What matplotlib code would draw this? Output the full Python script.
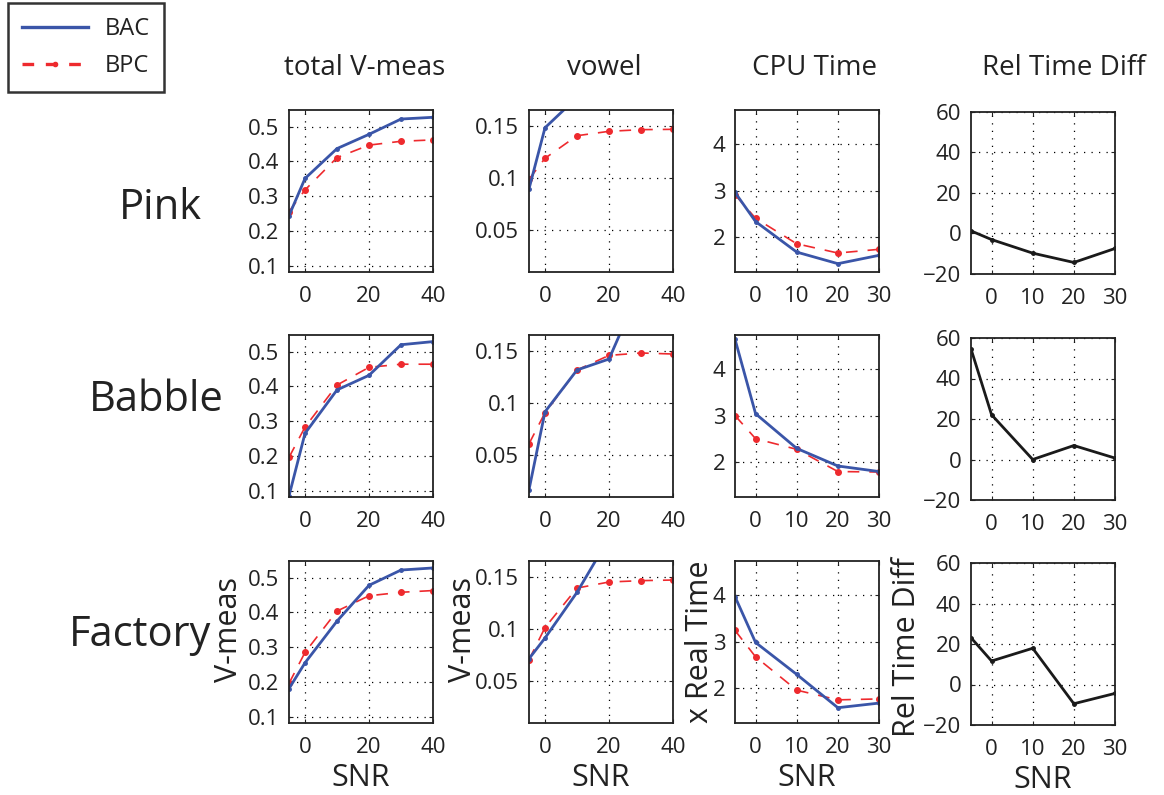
import matplotlib.pyplot as plt
from matplotlib.lines import Line2D

plt.rcParams['font.family'] = ['Open Sans', 'DejaVu Sans']

snr_long = [-5, 0, 10, 20, 30, 40]
snr_short = [-5, 0, 10, 20, 30]
noise_types = ['Pink', 'Babble', 'Factory']
col_titles = ['total V-meas', 'vowel', 'CPU Time', 'Rel Time Diff']
y_labels = ['V-meas', 'V-meas', 'x Real Time', 'Rel Time Diff']

# total V-measure
vmeas_bac = [
    [0.244, 0.351, 0.437, 0.478, 0.522, 0.527],
    [0.085, 0.265, 0.390, 0.432, 0.520, 0.529],
    [0.181, 0.255, 0.375, 0.478, 0.522, 0.528],
]
vmeas_bpc = [
    [0.256, 0.318, 0.411, 0.447, 0.458, 0.462],
    [0.196, 0.283, 0.404, 0.455, 0.464, 0.464],
    [0.196, 0.285, 0.404, 0.448, 0.458, 0.463],
]
# vowel V-measure
vowel_bac = [
    [0.0895, 0.148, 0.177, 0.190, 0.196, 0.199],
    [0.017, 0.0915, 0.1315, 0.142, 0.212, 0.220],
    [0.0715, 0.0913, 0.135, 0.187, 0.195, 0.198],
]
vowel_bpc = [
    [0.0987, 0.1188, 0.1404, 0.1446, 0.1462, 0.1465],
    [0.0609, 0.0906, 0.1315, 0.1455, 0.1478, 0.1468],
    [0.0705, 0.1013, 0.1391, 0.1449, 0.1462, 0.1468],
]
# CPU time (x real time)
cpu_bac = [
    [2.96, 2.33, 1.67, 1.42, 1.60],
    [4.65, 3.04, 2.29, 1.91, 1.79],
    [3.97, 2.98, 2.29, 1.57, 1.67],
]
cpu_bpc = [
    [2.91, 2.40, 1.85, 1.65, 1.73],
    [3.00, 2.50, 2.27, 1.79, 1.78],
    [3.24, 2.67, 1.95, 1.74, 1.76],
]
# relative time difference
rel_diff = [
    [1.3, -3.0, -9.7, -14.3, -7.4],
    [54.6, 22.1, 0.0, 6.9, 0.7],
    [23.1, 11.6, 17.9, -9.5, -4.4],
]

BLUE = '#3a55a8'
RED = '#ee2a2e'
TXT = '#222222'
W, H = 1164, 795


def style_axis(ax):
    ax.grid(True, color='black', linestyle=(0, (1, 5)), linewidth=0.9)
    ax.tick_params(direction='in', length=3, labelsize=16, top=True,
                   right=True, colors=TXT)
    ax.tick_params(axis='y', pad=7)
    ax.tick_params(axis='x', pad=10)
    for s in ax.spines.values():
        s.set_linewidth(1.3)
        s.set_color(TXT)


def plot_pair(ax, x, bac, bpc):
    ax.plot(x, bpc, color=RED, lw=1.2, ls=(0, (7, 6)), marker='.', ms=8)
    ax.plot(x, bac, color=BLUE, lw=2.0, marker='.', ms=5)


fig = plt.figure(figsize=(W / 100, H / 100), dpi=100)

lefts = [289, 529, 735, 971]
tops = [[110, 110, 110, 112], [335, 335, 335, 338], [561, 561, 561, 563]]
aw, ah = 144, 162
ylab_x = [-0.31, -0.355, -0.14, -0.34]
ylab_y = [0.58, 0.58, 0.50, 0.48]

for r in range(3):
    for c in range(4):
        top = tops[r][c]
        ax = fig.add_axes([lefts[c] / W, 1 - (top + ah) / H, aw / W, ah / H])
        if c == 0:
            plot_pair(ax, snr_long, vmeas_bac[r], vmeas_bpc[r])
            ax.set_xlim(-5, 40)
            ax.set_ylim(0.082, 0.548)
            ax.set_xticks([0, 20, 40])
            ax.set_yticks([0.1, 0.2, 0.3, 0.4, 0.5])
        elif c == 1:
            plot_pair(ax, snr_long, vowel_bac[r], vowel_bpc[r])
            ax.set_xlim(-5, 40)
            ax.set_ylim(0.01, 0.165)
            ax.set_xticks([0, 20, 40])
            ax.set_yticks([0.05, 0.1, 0.15])
            ax.set_yticklabels(['0.05', '0.1', '0.15'])
        elif c == 2:
            plot_pair(ax, snr_short, cpu_bac[r], cpu_bpc[r])
            ax.set_xlim(-5, 30)
            ax.set_ylim(1.24, 4.74)
            ax.set_xticks([0, 10, 20, 30])
            ax.set_yticks([2, 3, 4])
        else:
            ax.plot(snr_short, rel_diff[r], color='#1a1a1a', lw=2.0,
                    marker='.', ms=5)
            ax.set_xlim(-5, 30)
            ax.set_ylim(-20, 60)
            ax.set_xticks([0, 10, 20, 30])
            ax.set_yticks([-20, 0, 20, 40, 60])
            ax.set_yticklabels(['\u221220', '0', '20', '40', '60'])
        style_axis(ax)
        if r == 2:
            ax.set_xlabel('SNR', fontsize=22, labelpad=4, color=TXT)
            ax.set_ylabel(y_labels[c], fontsize=22, color=TXT)
            ax.yaxis.set_label_coords(ylab_x[c], ylab_y[c])

# column titles
title_x = [365, 604, 815, 1064]
for c, t in enumerate(col_titles):
    fig.text(title_x[c] / W, 1 - 68 / H, t, fontsize=20, ha='center',
             va='center', color=TXT)

# row labels
row_pos = [(160, 208), (156, 400), (140, 635)]
for (x, y), name in zip(row_pos, noise_types):
    fig.text(x / W, 1 - y / H, name, fontsize=30, ha='center', va='center',
             color=TXT)

handles = [
    Line2D([], [], color=BLUE, lw=2.4),
    Line2D([], [], color=RED, lw=2.4, ls=(0, (3.5, 3.5)), marker='.', ms=6),
]
leg = fig.legend(handles, ['BAC', 'BPC'], loc='upper left',
                 bbox_to_anchor=(8 / W, 1 - 3 / H), borderaxespad=0,
                 fontsize=17, frameon=True, fancybox=False,
                 handlelength=2.8, borderpad=0.6, labelspacing=0.55,
                 handletextpad=0.7)
leg.get_frame().set_edgecolor('black')
leg.get_frame().set_linewidth(1.8)
for t in leg.get_texts():
    t.set_color(TXT)

fig.savefig('out.png', dpi=100)
